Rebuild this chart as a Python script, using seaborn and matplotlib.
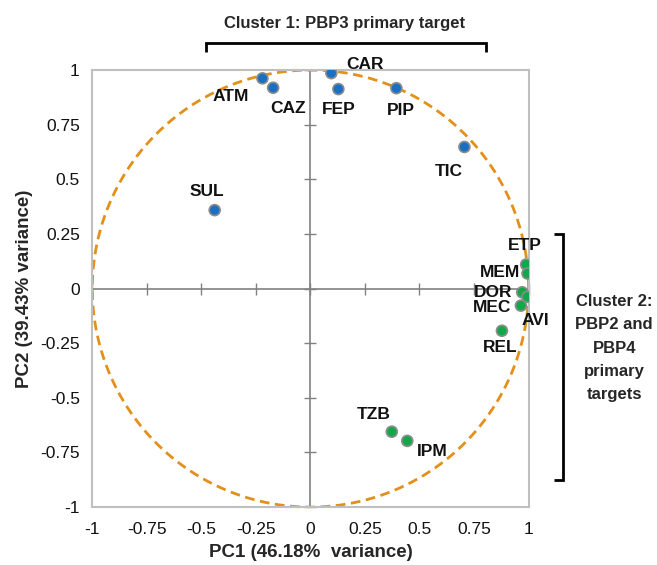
"""PCA loading plot of beta-lactams on PC1/PC2 with correlation circle."""

import matplotlib

matplotlib.use("Agg")

import matplotlib.pyplot as plt
import numpy as np
import pandas as pd
import seaborn as sns


# loadings
drugs = ["ATM", "CAZ", "CAR", "FEP", "PIP", "TIC", "SUL",
         "ETP", "MEM", "DOR", "AVI", "MEC", "REL", "TZB", "IPM"]
pc1 = [-0.220, -0.171, 0.096, 0.128, 0.394, 0.706, -0.439,
       0.989, 0.995, 0.971, 0.995, 0.965, 0.878, 0.373, 0.444]
pc2 = [0.962, 0.919, 0.986, 0.913, 0.917, 0.648, 0.359,
       0.110, 0.069, -0.017, -0.038, -0.078, -0.193, -0.655, -0.697]
group = ["PBP3"] * 7 + ["PBP2/4"] * 8

ticks = [-1, -0.75, -0.5, -0.25, 0, 0.25, 0.5, 0.75, 1]
tick_labels = ["-1", "-0.75", "-0.5", "-0.25", "0", "0.25", "0.5", "0.75", "1"]

# label offsets in pixels from each point (layout only)
label_offsets = {
    "ATM": (-32, -18), "CAZ": (15, -21), "CAR": (34, 9), "FEP": (0, -20),
    "PIP": (5, -22), "TIC": (-16, -25), "SUL": (-8, 19), "ETP": (-1, 19),
    "MEM": (-27, 1), "DOR": (-29, 0), "AVI": (8, -24), "MEC": (-29, -2),
    "REL": (-2, -17), "TZB": (-18, 17), "IPM": (25, -11),
}

sns.set_theme(style="white")
plt.rcParams["font.family"] = ["Liberation Sans", "DejaVu Sans"]

df = pd.DataFrame({"drug": drugs, "PC1": pc1, "PC2": pc2, "group": group})

fig = plt.figure(figsize=(6.57, 5.65), dpi=100)
ax = fig.add_axes([0.1405, 0.1025, 0.664, 0.7735])

# correlation circle
theta = np.linspace(0, 2 * np.pi, 400)
ax.plot(np.cos(theta), np.sin(theta), color="#E3901B", lw=2,
        linestyle=(0, (3.5, 2)), zorder=2)

sns.scatterplot(data=df, x="PC1", y="PC2", hue="group",
                palette={"PBP3": "#1A6FC2", "PBP2/4": "#12A84A"},
                s=62, edgecolor="#8C8C8C", linewidth=1.2, legend=False,
                ax=ax, zorder=4)

for name, x, y in zip(drugs, pc1, pc2):
    dx, dy = label_offsets[name]
    ax.annotate(name, (x, y), xytext=(dx, dy), textcoords="offset pixels",
                ha="center", va="center", fontsize=12.5, fontweight="bold",
                color="#111111", zorder=5)

ax.set_xlim(-1, 1)
ax.set_ylim(-1, 1)
ax.set_xticks(ticks)
ax.set_xticklabels(tick_labels)
ax.set_yticks(ticks)
ax.set_yticklabels(tick_labels)
ax.tick_params(length=0, labelsize=12.5, colors="#111111")
ax.tick_params(axis="x", pad=11)
ax.tick_params(axis="y", pad=9)
for spine in ax.spines.values():
    spine.set_color("#BFBFBF")
    spine.set_linewidth(1.5)
ax.set_xlabel("PC1 (46.18%  variance)", fontsize=13.5, fontweight="bold",
              labelpad=5)
ax.set_ylabel("PC2 (39.43% variance)", fontsize=13.5, fontweight="bold",
              labelpad=5)

# overlay axes for the zero axes with cross ticks
ax0 = fig.add_axes(ax.get_position(), sharex=ax, sharey=ax)
ax0.patch.set_visible(False)
for side in ["top", "right"]:
    ax0.spines[side].set_visible(False)
for side in ["left", "bottom"]:
    ax0.spines[side].set_position("zero")
    ax0.spines[side].set_color("#808080")
    ax0.spines[side].set_linewidth(1.2)
ax0.tick_params(direction="inout", length=8, width=1, color="#808080",
                labelleft=False, labelbottom=False, left=True, bottom=True)
ax0.set_zorder(ax.get_zorder() - 1)
ax.patch.set_visible(False)
ax0.set_facecolor("none")

# cluster brackets and captions
bk = dict(color="black", lw=2, solid_capstyle="butt", solid_joinstyle="miter")
fig.add_artist(plt.Line2D([0.3135, 0.3135, 0.7395, 0.7395],
                          [0.9085, 0.9245, 0.9245, 0.9085],
                          transform=fig.transFigure, **bk))
fig.text(0.524, 0.959, "Cluster 1: PBP3 primary target", ha="center",
         va="center", fontsize=12, fontweight="bold")

fig.add_artist(plt.Line2D([0.843, 0.857, 0.857, 0.843],
                          [0.586, 0.586, 0.150, 0.150],
                          transform=fig.transFigure, **bk))
fig.text(0.935, 0.384, "Cluster 2:\nPBP2 and\nPBP4\nprimary\ntargets",
         ha="center", va="center", fontsize=12, fontweight="bold",
         linespacing=1.7)

fig.savefig("out.png", dpi=100)
plt.close(fig)
